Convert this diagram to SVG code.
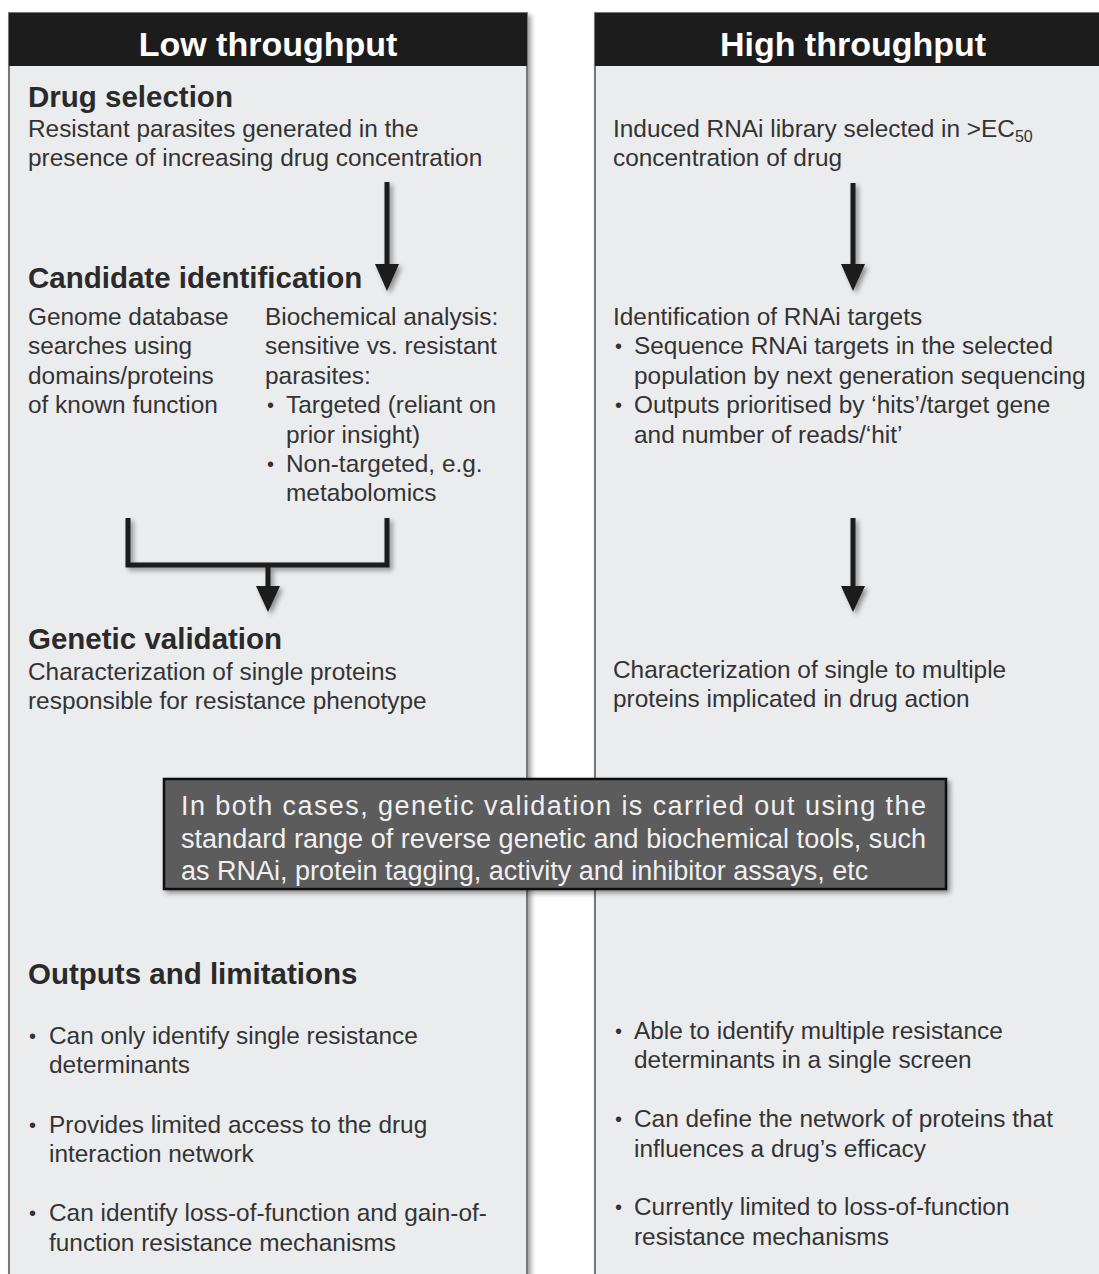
<svg xmlns="http://www.w3.org/2000/svg" width="1099" height="1274" viewBox="0 0 1099 1274">
<defs>
<filter id="sh" x="-10%" y="-10%" width="130%" height="130%">
<feGaussianBlur in="SourceAlpha" stdDeviation="2.5"/>
<feOffset dx="3" dy="3" result="b"/>
<feComponentTransfer><feFuncA type="linear" slope="0.4"/></feComponentTransfer>
<feMerge><feMergeNode/><feMergeNode in="SourceGraphic"/></feMerge>
</filter>
</defs>
<style>
.panel{fill:#ebecee;stroke:#777;stroke-width:2}
.hdr{fill:#1c1c1c}
.title{font-family:"Liberation Sans",Arial,sans-serif;font-weight:bold;font-size:34px;fill:#fff;text-anchor:middle}
.h{font-family:"Liberation Sans",Arial,sans-serif;font-weight:bold;font-size:29.5px;fill:#2a2a2a}
.t{font-family:"Liberation Sans",Arial,sans-serif;font-size:24.4px;fill:#333}
.b{font-family:"Liberation Sans",Arial,sans-serif;font-size:20px;fill:#333}
.wt{font-family:"Liberation Sans",Arial,sans-serif;font-size:27px;fill:#f0f0f0}
.ln{stroke:#1a1a1a;stroke-width:5;fill:none}
</style>
<rect width="1099" height="1274" fill="#ffffff"/>
<g id="low-panel">
<rect class="panel" x="9" y="13" width="518" height="1275" filter="url(#sh)"/>
<rect class="hdr" x="9" y="13" width="518" height="53"/>
<text class="title" x="268" y="56">Low throughput</text>
</g>
<g id="high-panel">
<rect class="panel" x="595" y="13" width="518" height="1275" filter="url(#sh)"/>
<rect class="hdr" x="595" y="13" width="518" height="53"/>
<text class="title" x="853" y="56">High throughput</text>
</g>
<g id="drug-selection">
<text class="h" x="28" y="107">Drug selection</text>
<text class="t" x="28" y="137">Resistant parasites generated in the</text>
<text class="t" x="28" y="166">presence of increasing drug concentration</text>
</g>
<g id="candidate-identification">
<text class="h" x="28" y="288">Candidate identification</text>
<text class="t" x="28" y="325">Genome database</text>
<text class="t" x="28" y="354">searches using</text>
<text class="t" x="28" y="384">domains/proteins</text>
<text class="t" x="28" y="413">of known function</text>
<text class="t" x="265" y="325">Biochemical analysis:</text>
<text class="t" x="265" y="354">sensitive vs. resistant</text>
<text class="t" x="265" y="384">parasites:</text>
<text class="b" x="267" y="412">•</text>
<text class="t" x="286" y="413">Targeted (reliant on</text>
<text class="t" x="286" y="443">prior insight)</text>
<text class="b" x="267" y="471">•</text>
<text class="t" x="286" y="472">Non-targeted, e.g.</text>
<text class="t" x="286" y="501">metabolomics</text>
</g>
<g id="genetic-validation">
<text class="h" x="28" y="649">Genetic validation</text>
<text class="t" x="28" y="680">Characterization of single proteins</text>
<text class="t" x="28" y="709">responsible for resistance phenotype</text>
</g>
<g id="rnai-library">
<text class="t" x="613" y="137">Induced RNAi library selected in &gt;EC<tspan font-size="16" dy="5">50</tspan></text>
<text class="t" x="613" y="166">concentration of drug</text>
</g>
<g id="rnai-targets">
<text class="t" x="613" y="325">Identification of RNAi targets</text>
<text class="b" x="615" y="353">•</text>
<text class="t" x="634" y="354">Sequence RNAi targets in the selected</text>
<text class="t" x="634" y="384">population by next generation sequencing</text>
<text class="b" x="615" y="412">•</text>
<text class="t" x="634" y="413">Outputs prioritised by ‘hits’/target gene</text>
<text class="t" x="634" y="443">and number of reads/‘hit’</text>
</g>
<g id="characterization-multiple">
<text class="t" x="613" y="678">Characterization of single to multiple</text>
<text class="t" x="613" y="707">proteins implicated in drug action</text>
</g>
<g id="connectors" filter="url(#sh)">
<path class="ln" d="M387,182 V266"/>
<path d="M375,264 H399 L387,291 Z" fill="#1a1a1a"/>
<path class="ln" d="M128,518 V565 H387 V518"/>
<path class="ln" d="M268,565 V588"/>
<path d="M256,586 H280 L268,612 Z" fill="#1a1a1a"/>
<path class="ln" d="M853,183 V266"/>
<path d="M841,264 H865 L853,291 Z" fill="#1a1a1a"/>
<path class="ln" d="M853,518 V588"/>
<path d="M841,586 H865 L853,612 Z" fill="#1a1a1a"/>
</g>
<g id="validation-note">
<rect x="164" y="779" width="782" height="110" fill="#5b5b5b" stroke="#111" stroke-width="2.5" filter="url(#sh)"/>
<text class="wt" x="181" y="815" textLength="745" lengthAdjust="spacing">In both cases, genetic validation is carried out using the</text>
<text class="wt" x="181" y="848" textLength="745" lengthAdjust="spacing">standard range of reverse genetic and biochemical tools, such</text>
<text class="wt" x="181" y="880">as RNAi, protein tagging, activity and inhibitor assays, etc</text>
</g>
<g id="outputs-low">
<text class="h" x="28" y="984">Outputs and limitations</text>
<text class="b" x="29" y="1043">•</text>
<text class="t" x="49" y="1044">Can only identify single resistance</text>
<text class="t" x="49" y="1073">determinants</text>
<text class="b" x="29" y="1132">•</text>
<text class="t" x="49" y="1133">Provides limited access to the drug</text>
<text class="t" x="49" y="1162">interaction network</text>
<text class="b" x="29" y="1220">•</text>
<text class="t" x="49" y="1221">Can identify loss-of-function and gain-of-</text>
<text class="t" x="49" y="1251">function resistance mechanisms</text>
</g>
<g id="outputs-high">
<text class="b" x="615" y="1038">•</text>
<text class="t" x="634" y="1039">Able to identify multiple resistance</text>
<text class="t" x="634" y="1068">determinants in a single screen</text>
<text class="b" x="615" y="1126">•</text>
<text class="t" x="634" y="1127">Can define the network of proteins that</text>
<text class="t" x="634" y="1157">influences a drug’s efficacy</text>
<text class="b" x="615" y="1214">•</text>
<text class="t" x="634" y="1215">Currently limited to loss-of-function</text>
<text class="t" x="634" y="1245">resistance mechanisms</text>
</g>
</svg>
